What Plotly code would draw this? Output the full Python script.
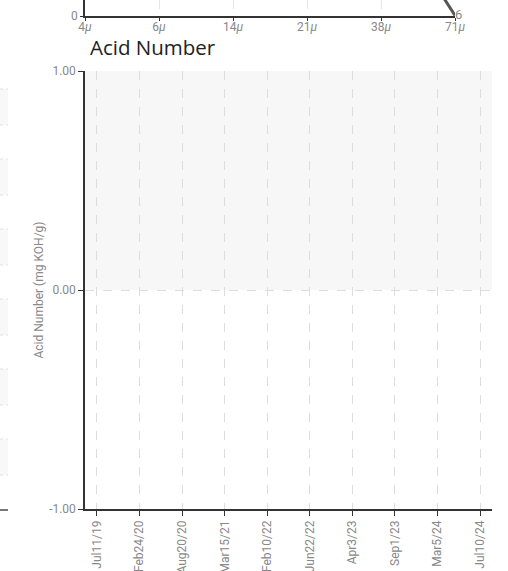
import plotly.graph_objects as go

# Main chart: Acid Number (no readings in view)
sample_dates = ["Jul11/19", "Feb24/20", "Aug20/20", "Mar15/21", "Feb10/22",
                "Jun22/22", "Apr3/23", "Sep1/23", "Mar5/24", "Jul10/24"]
acid_values = [None, None, None, None, None, None, None, None, None, None]
acid_ticks = [-1.0, 0.0, 1.0]
acid_tick_text = ["-1.00", "0.00", "1.00"]
band_low, band_high = 0.0, 1.0

# Partially visible chart above: particle count by size
particle_sizes = ["4μ", "6μ", "14μ", "21μ", "38μ", "71μ"]
particle_labels = ["4<i>μ</i>", "6<i>μ</i>", "14<i>μ</i>", "21<i>μ</i>", "38<i>μ</i>", "71<i>μ</i>"]
particle_counts = [21000, 9800, 3600, 2100, 1150, 6]

W, H = 508, 571
ml, mr, mt, mb = 85, 16, 0, 62
pw, ph = W - ml - mr, H - mt - mb

FONT = "Roboto, sans-serif"
tick_font = dict(family=FONT, size=12, color="#888")

fig = go.Figure()

fig.add_trace(go.Scatter(x=sample_dates, y=acid_values, mode="lines",
                         line=dict(color="#444", width=2), showlegend=False,
                         xaxis="x", yaxis="y", hoverinfo="skip"))

fig.add_trace(go.Scatter(x=particle_sizes, y=particle_counts, mode="lines+text",
                         line=dict(color="#555", width=3), showlegend=False,
                         text=[""] * (len(particle_counts) - 1) + [str(particle_counts[-1])],
                         textposition="middle right",
                         textfont=dict(family=FONT, size=13, color="#888"),
                         cliponaxis=False,
                         xaxis="x2", yaxis="y2", hoverinfo="skip"))

top_dom_bottom = (ph - 16) / ph
main_dom_top = (ph - 71) / ph

fig.update_layout(
    width=W, height=H,
    margin=dict(l=ml, r=mr, t=mt, b=mb, autoexpand=False),
    paper_bgcolor="white", plot_bgcolor="white",
    showlegend=False,
    xaxis=dict(domain=[0, 1], type="category", categoryorder="array", categoryarray=sample_dates,
               range=[-0.28, len(sample_dates) - 1 + 0.28],
               showline=True, linecolor="#333", linewidth=1.5,
               ticks="outside", ticklen=5, tickcolor="#333", tickangle=-90,
               tickfont=tick_font, showgrid=True, gridcolor="#ddd", griddash="dash",
               zeroline=False, fixedrange=True, anchor="y", automargin=False),
    yaxis=dict(domain=[0, main_dom_top], range=[-1, 1], tickvals=acid_ticks, ticktext=acid_tick_text,
               showline=True, linecolor="#333", linewidth=1.5,
               ticks="outside", ticklen=5, tickcolor="#333", tickfont=tick_font,
               showgrid=True, gridcolor="#ddd", griddash="dash", zeroline=False,
               title=dict(text="Acid Number (mg KOH/g)", standoff=3,
                          font=dict(family=FONT, size=12, color="#888")),
               anchor="x", automargin=False),
    xaxis2=dict(domain=[0, 370 / pw], type="category", categoryorder="array", categoryarray=particle_sizes,
                range=[0, len(particle_sizes) - 1], tickvals=particle_sizes, ticktext=particle_labels,
                showline=True, linecolor="#333", linewidth=1.5,
                ticks="outside", ticklen=3, tickcolor="#333", tickfont=tick_font,
                ticklabelstandoff=-4,
                showgrid=True, gridcolor="#e6e6e6", griddash="dash", zeroline=False,
                anchor="y2", fixedrange=True, automargin=False),
    yaxis2=dict(domain=[top_dom_bottom, 1], range=[0, 160], tickvals=[0], ticktext=["0"],
                showline=True, linecolor="#333", linewidth=1.5,
                ticks="outside", ticklen=3, tickcolor="#333", tickfont=tick_font,
                showgrid=False, zeroline=False, anchor="x2", automargin=False),
    title=dict(text="Acid Number", x=5 / pw, xref="paper", xanchor="left",
               y=1 - 48 / H, yref="container", yanchor="middle",
               font=dict(family="Open Sans, Noto Sans, sans-serif", size=20.5, color="#222")),
)

# Acceptable band shading
fig.add_shape(type="rect", xref="x domain", yref="y", x0=0, x1=1, y0=band_low, y1=band_high,
              fillcolor="#f7f7f7", line=dict(width=0), layer="below")

# Remnants of the neighbouring panel on the left edge
px = lambda p: (p - ml) / pw
py = lambda p: (ph - (p - mt)) / ph
for top in [89, 159, 229, 299, 369, 439]:
    fig.add_shape(type="rect", xref="paper", yref="paper", x0=px(0), x1=px(8),
                  y0=py(top + 36), y1=py(top), fillcolor="#f8f8f8", line=dict(width=0), layer="below")
    for yy in [top, top + 36]:
        fig.add_shape(type="line", xref="paper", yref="paper", x0=px(0), x1=px(8),
                      y0=py(yy), y1=py(yy), line=dict(color="#e2e2e2", width=1, dash="dot"))
fig.add_shape(type="line", xref="paper", yref="paper", x0=px(0), x1=px(8),
              y0=py(510), y1=py(510), line=dict(color="#777", width=2))

fig.write_html("out.html", config={"displayModeBar": False},
               post_script="document.body.style.margin='0';document.body.style.overflow='hidden';")
